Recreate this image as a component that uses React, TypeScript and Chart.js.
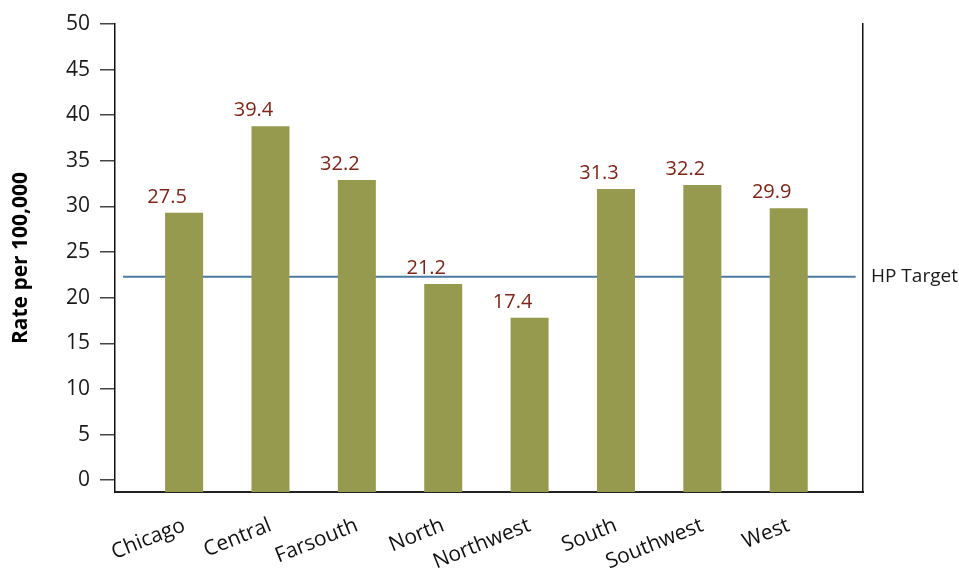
import React, { useEffect, useRef } from "react";
import { Chart, registerables } from "chart.js";

Chart.register(...registerables);

const categories = ["Chicago", "Central", "Farsouth", "North", "Northwest", "South", "Southwest", "West"];
const barValues = [29.3, 38.8, 32.9, 21.5, 17.8, 31.9, 32.35, 29.8];
const labelValues = ["27.5", "39.4", "32.2", "21.2", "17.4", "31.3", "32.2", "29.9"];
const hpTarget = 22.3;
const hpLabel = "HP Target";
const yTickValues = [0, 5, 10, 15, 20, 25, 30, 35, 40, 45, 50];
const yTitle = "Rate per 100,000";

const Y_MIN = -1.3;
const Y_MAX = 50;
const X_MIN = -0.8;
const X_MAX = 7.86;
const FONT = "'Open Sans', sans-serif";

const valueLabels = {
  id: "valueLabels",
  afterDatasetsDraw(chart: any) {
    const meta = chart.getDatasetMeta(0);
    const ctx = chart.ctx;
    ctx.save();
    ctx.fillStyle = "#7b2618";
    ctx.font = `20px ${FONT}`;
    ctx.textAlign = "center";
    ctx.textBaseline = "alphabetic";
    meta.data.forEach((el: any, i: number) => {
      ctx.fillText(labelValues[i], el.x - 17, el.y - 10);
    });
    ctx.restore();
  },
};

export default function App() {
  const ref = useRef<HTMLCanvasElement | null>(null);
  useEffect(() => {
    if (!ref.current) return;
    const chart = new Chart(ref.current, {
      type: "bar",
      data: {
        datasets: [
          {
            type: "bar",
            data: barValues.map((v, i) => ({ x: i, y: v })),
            backgroundColor: "#959a4f",
            base: Y_MIN,
            barPercentage: 0.44,
            categoryPercentage: 1,
            yAxisID: "y",
          } as any,
          {
            type: "line",
            data: [
              { x: -0.706, y: hpTarget },
              { x: 7.775, y: hpTarget },
            ],
            borderColor: "#4a7ba3",
            borderWidth: 2,
            pointRadius: 0,
            fill: false,
            yAxisID: "y",
          } as any,
        ],
      },
      options: {
        animation: false,
        responsive: true,
        maintainAspectRatio: false,
        layout: { padding: { top: 24, left: 0, right: 0, bottom: 0 } },
        plugins: { legend: { display: false }, tooltip: { enabled: false } },
        scales: {
          x: {
            type: "linear",
            min: X_MIN,
            max: X_MAX,
            offset: false,
            afterBuildTicks: (s: any) => {
              s.ticks = categories.map((_, i) => ({ value: i }));
            },
            afterFit: (s: any) => {
              s.height = 80;
            },
            ticks: {
              autoSkip: false,
              minRotation: 22,
              maxRotation: 22,
              padding: 21,
              color: "#111",
              font: { family: FONT, size: 21 },
              callback: (v: any) => categories[Math.round(v)] ?? "",
            },
            grid: { display: false, drawTicks: false },
            border: { display: true, color: "#222", width: 2 },
          },
          y: {
            type: "linear",
            position: "left",
            min: Y_MIN,
            max: Y_MAX,
            afterBuildTicks: (s: any) => {
              s.ticks = yTickValues.map((v) => ({ value: v }));
            },
            afterFit: (s: any) => {
              s.width = 115;
            },
            ticks: {
              padding: 10,
              color: "#1a1a1a",
              font: { family: FONT, size: 21 },
            },
            grid: {
              display: true,
              drawOnChartArea: false,
              drawTicks: true,
              tickLength: 15,
              color: "#444",
              lineWidth: 1.5,
            },
            border: { display: true, color: "#111", width: 1.5 },
            title: {
              display: true,
              text: yTitle,
              color: "#000",
              font: { family: FONT, size: 21, weight: "bold" },
              padding: { top: 8, bottom: 0 },
            },
          },
          y2: {
            type: "linear",
            position: "right",
            min: Y_MIN,
            max: Y_MAX,
            afterBuildTicks: (s: any) => {
              s.ticks = [{ value: hpTarget }];
            },
            afterFit: (s: any) => {
              s.width = 96;
            },
            ticks: {
              padding: 8,
              color: "#1a1a1a",
              font: { family: FONT, size: 19 },
              callback: () => hpLabel,
            },
            grid: { display: false, drawTicks: false },
            border: { display: true, color: "#111", width: 1.5 },
          },
        },
      },
      plugins: [valueLabels],
    } as any);
    return () => chart.destroy();
  }, []);
  return (
    <div style={{ position: "absolute", left: 0, top: 0, width: 959, height: 572 }}>
      <canvas ref={ref} />
    </div>
  );
}
